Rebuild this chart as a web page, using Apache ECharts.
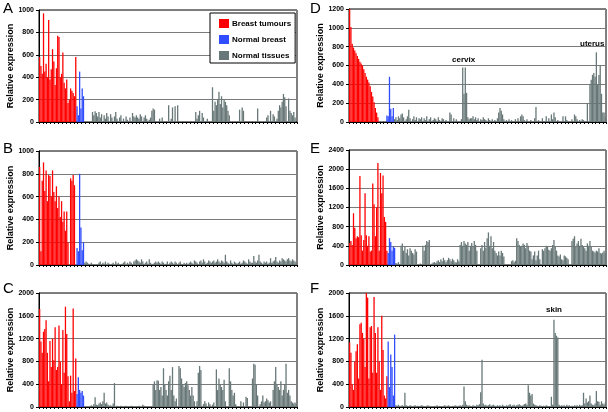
<!DOCTYPE html>
<html><head><meta charset="utf-8">
<script src="https://cdn.jsdelivr.net/npm/echarts@6/dist/echarts.min.js"></script>
<style>html,body{margin:0;padding:0;background:#fff}#c{width:608px;height:412px}</style>
</head><body><div id="c"></div>
<script>
// ---------- DATA ----------
const seriesNames = ['Breast tumours', 'Normal breast', 'Normal tissues'];
const panelLetters = ['A', 'B', 'C', 'D', 'E', 'F'];
const yMax = [1000, 1000, 2000, 1200, 2400, 2000];
const yStep = [200, 200, 400, 200, 400, 400];
const yAxisTitle = 'Relative expression';
const annotations = ['cervix', 'uterus', 'skin'];

// Panel A
const tumoursA = [580,500,430,970,450,520,400,910,380,470,650,540,330,480,770,760,400,430,620,350,300,380,170,200,300,280,260,230,580];
const normalBreastA = [140,60,450,120,300,230];
const normalTissuesA = [
0,0,0,0,0,0,90,60,95,80, 50,90,40,70,0,60,30,80,50,0, 70,40,0,50,90,30,0,40,60,0,
30,0,50,20,0,40,0,80,50,40, 60,40,30,70,50,0,40,60,30,0, 20,40,100,120,110,0,0,0,30,0,
40,0,0,0,0,150,0,30,130,0, 140,0,150,0,0,0,0,0,0,0, 0,0,0,0,0,0,90,30,60,100,
0,80,40,0,0,30,0,0,0,310, 100,180,150,200,270,160,230,130,200,180, 150,100,60,0,0,0,0,0,0,0,
110,0,130,100,0,0,0,0,0,0, 0,0,0,0,120,0,0,0,0,0, 0,40,60,0,100,0,70,50,0,30,
100,150,130,180,250,220,140,0,210,100, 80,60,90,40,0];

// Panel B
const tumoursB = [860,120,740,900,650,830,560,790,780,600,830,640,560,690,500,600,420,560,380,470,300,470,200,0,760,740,790,700];
const normalBreastB = [0,150,120,800,330,130,200];
const normalTissuesB = [
20,30,20,10,0,20,10,0,0,0, 0,20,30,0,20,10,30,0,20,10, 0,10,20,0,30,10,20,0,0,10,
20,30,0,20,10,30,20,0,30,40, 50,40,30,20,50,30,0,20,30,10, 50,20,0,10,20,30,20,30,20,10,
30,20,0,10,30,0,20,30,20,10, 30,20,0,20,30,10,0,20,10,20, 0,20,30,20,10,40,30,20,0,30,
40,20,50,30,10,20,40,30,20,30, 40,20,30,50,30,20,40,30,20,90, 30,20,10,40,20,0,30,20,10,20,
30,10,20,40,30,20,10,50,30,20, 20,80,30,20,40,90,30,20,10,30, 20,30,10,20,60,20,30,40,70,30,
20,40,30,60,50,40,30,50,60,40, 30,50,40,30,20];

// Panel C
const tumoursC = [1720,1150,950,1320,1370,1520,950,450,1160,700,1200,820,1400,650,700,1430,800,400,1350,600,1760,1280,540,100,550,250,1730,280,850];
const normalBreastC = [230,520,300,250,280,200];
const normalTissuesC = [
0,0,0,0,0,30,20,50,170,40, 30,60,80,50,100,250,60,80,40,20, 30,0,60,420,0,20,10,0,20,10,
0,10,20,0,10,0,20,10,0,10, 0,10,20,0,0,40,20,0,0,0, 0,0,0,400,450,300,470,460,300,350,
200,680,400,300,200,450,550,300,700,200, 100,150,0,720,680,500,400,350,420,450, 380,300,200,350,200,100,0,100,600,720,
650,0,50,100,60,0,80,50,0,40, 80,0,660,300,500,400,350,300,480,100, 0,0,680,450,300,200,250,50,0,0,
0,100,0,80,0,180,160,0,0,0, 500,760,740,400,200,0,50,100,200,80, 100,150,120,80,100,0,300,450,700,400,
350,300,450,200,300,400,760,250,300,200, 100,80,60,80,50];

// Panel D
const tumoursD = [1200,1010,830,790,760,730,700,670,640,620,600,560,520,480,450,420,380,320,270,210,150,100,50];
const normalBreastD = [0,0,0,0,0,0,70,60,480,140,60,150];
const normalTissuesD = [
30,50,20,60,40,80,90,50,0,30, 60,130,40,0,30,60,20,50,0,40, 30,50,0,40,20,60,0,30,50,0,
20,40,30,0,50,20,0,40,30,0, 20,0,0,100,80,0,40,0,30,0, 0,0,30,580,300,580,310,50,30,40,
40,60,30,50,20,40,0,30,20,50, 30,20,0,40,20,0,30,0,20,0, 40,100,150,120,80,30,0,20,0,30,
0,20,0,0,30,0,40,0,60,80, 60,20,0,30,0,0,20,0,0,40, 160,0,20,0,0,40,0,0,60,0,
40,0,80,30,100,50,0,20,0,0, 0,60,0,60,20,0,0,0,30,0, 80,60,30,0,20,0,30,20,0,0,
200,0,400,450,500,520,480,740,400,500, 600,300,100,100,50];

// Panel E
const tumoursE = [460,500,420,1080,780,560,600,580,1860,620,300,520,1500,620,400,600,280,300,1700,1270,600,1200,2130,300,1920,1500,1870,1000,900,300];
const normalBreastE = [250,560,480,300,380,360];
const normalTissuesE = [
40,30,60,20,400,450,300,380,250,330, 200,350,300,250,220,330,280,0,0,30, 20,400,300,420,500,480,520,0,30,50,
60,40,80,100,60,120,80,150,100,60, 100,150,120,80,130,100,60,50,120,80, 420,480,400,500,450,420,480,300,400,460,
380,500,420,300,0,0,350,420,300,480, 360,560,680,400,600,350,480,300,250,200, 280,200,300,250,180,0,0,0,0,0,
80,100,60,90,560,500,420,380,400,450, 420,350,460,400,300,280,120,200,280,100, 200,300,120,0,330,300,350,400,380,320,
300,350,420,520,380,300,200,180,220,120, 100,200,180,150,120,0,0,500,550,600, 380,450,500,400,550,420,380,350,300,450,
400,500,380,300,280,260,300,280,350,250, 240,260,300,250];

// Panel F
const tumoursF = [1130,950,400,300,800,980,1100,500,1450,1480,1300,1200,700,2000,1920,500,1400,1420,600,1930,1300,600,1400,800,300,1600,1000,200,150,540];
const normalBreastF = [1150,350,920,700,200,1270];
const normalTissuesF = [
30,20,40,10,20,30,20,250,30,20, 10,30,20,10,20,30,10,20,0,20, 30,20,10,0,20,30,10,20,0,10,
20,0,30,10,20,0,10,20,30,10, 20,30,10,0,20,10,30,20,10,20, 30,20,40,360,100,40,20,30,20,10,
30,20,10,40,30,50,260,830,60,30, 40,20,30,50,20,30,40,20,10,30, 20,30,10,40,20,0,30,20,40,50,
20,30,40,20,30,40,50,30,20,30, 50,60,40,380,250,200,230,60,40,30, 20,0,30,20,10,20,0,30,20,10,
0,180,40,1530,1300,1250,1220,40,20,30, 20,30,10,40,20,30,0,20,10,30, 20,30,10,40,20,30,250,60,150,80,
100,200,60,40,30,60,280,100,90,40, 100,60,50,80];

const panels = [
  [tumoursA, normalBreastA, normalTissuesA],
  [tumoursB, normalBreastB, normalTissuesB],
  [tumoursC, normalBreastC, normalTissuesC],
  [tumoursD, normalBreastD, normalTissuesD],
  [tumoursE, normalBreastE, normalTissuesE],
  [tumoursF, normalBreastF, normalTissuesF]
];

// ---------- LAYOUT / STYLE ----------
const FONT = '"Liberation Sans", Arial, sans-serif';
const colors = ['#ff0000', '#2f4cff', '#687777'];
const grids = [
  {left: 39, top: 10, width: 258, height: 112},
  {left: 39, top: 151, width: 258, height: 114},
  {left: 39, top: 293, width: 258, height: 114},
  {left: 349, top: 9, width: 257, height: 113},
  {left: 349, top: 150, width: 257, height: 115},
  {left: 349, top: 293, width: 257, height: 114}
];
const letterPos = [[3, 1], [3, 141], [3, 281], [310, 1], [310, 141], [310, 281]];

const option = {
  animation: false,
  backgroundColor: '#fff',
  grid: grids.map(g => Object.assign({show: true, borderColor: '#000', borderWidth: 1, backgroundColor: 'transparent'}, g)),
  title: panelLetters.map((t, i) => ({
    text: t, left: letterPos[i][0], top: letterPos[i][1], padding: 0,
    textStyle: {fontFamily: FONT, fontSize: 15, fontWeight: 'normal', color: '#000'}
  })),
  legend: {
    data: seriesNames, orient: 'vertical', left: 210, top: 13,
    padding: [6, 4, 3, 9], itemGap: 7, itemWidth: 10, itemHeight: 9,
    borderColor: '#000', borderWidth: 1, backgroundColor: '#fff', icon: 'rect',
    textStyle: {fontFamily: FONT, fontSize: 8, fontWeight: 'bold', color: '#000', padding: [0, 0, 0, -2]}
  },
  xAxis: panels.map((p, i) => {
    const n = p[0].length + p[1].length + p[2].length;
    return {
      type: 'category', gridIndex: i,
      data: Array.from({length: n}, (_, k) => String(k + 1)),
      axisLine: {lineStyle: {color: '#000', width: 1}},
      axisTick: {show: true, interval: 2, length: 2, lineStyle: {color: '#000'}},
      axisLabel: {show: false}, splitLine: {show: false}
    };
  }),
  yAxis: panels.map((p, i) => ({
    type: 'value', gridIndex: i, min: 0, max: yMax[i], interval: yStep[i],
    name: yAxisTitle, nameLocation: 'middle', nameGap: 24,
    nameTextStyle: {fontFamily: FONT, fontSize: 9, fontWeight: 'bold', color: '#000'},
    axisLine: {show: true, lineStyle: {color: '#000', width: 1}},
    axisTick: {show: true, length: 3, lineStyle: {color: '#000'}},
    axisLabel: {fontFamily: FONT, fontSize: 7, fontWeight: 'bold', color: '#000', margin: 5,
      formatter: v => String(v)},
    splitLine: {show: true, lineStyle: {color: '#7a7a7a', width: 1}}
  })),
  series: [],
  graphic: [
    {type: 'text', left: 452, top: 56, style: {text: annotations[0], font: 'bold 8px ' + FONT, fill: '#000'}},
    {type: 'text', left: 580, top: 40, style: {text: annotations[1], font: 'bold 8px ' + FONT, fill: '#000'}},
    {type: 'text', left: 546, top: 306, style: {text: annotations[2], font: 'bold 8px ' + FONT, fill: '#000'}}
  ]
};

panels.forEach((p, i) => {
  const n = p[0].length + p[1].length + p[2].length;
  let offset = 0;
  p.forEach((vals, s) => {
    const data = new Array(n).fill(null);
    vals.forEach((v, k) => { data[offset + k] = v; });
    offset += vals.length;
    option.series.push({
      type: 'bar', name: seriesNames[s], xAxisIndex: i, yAxisIndex: i,
      data: data, barGap: '-100%', barCategoryGap: '0%',
      itemStyle: {color: colors[s]}, silent: true
    });
  });
});

const chart = echarts.init(document.getElementById('c'), null, {renderer: 'canvas'});
chart.setOption(option);
</script></body></html>
